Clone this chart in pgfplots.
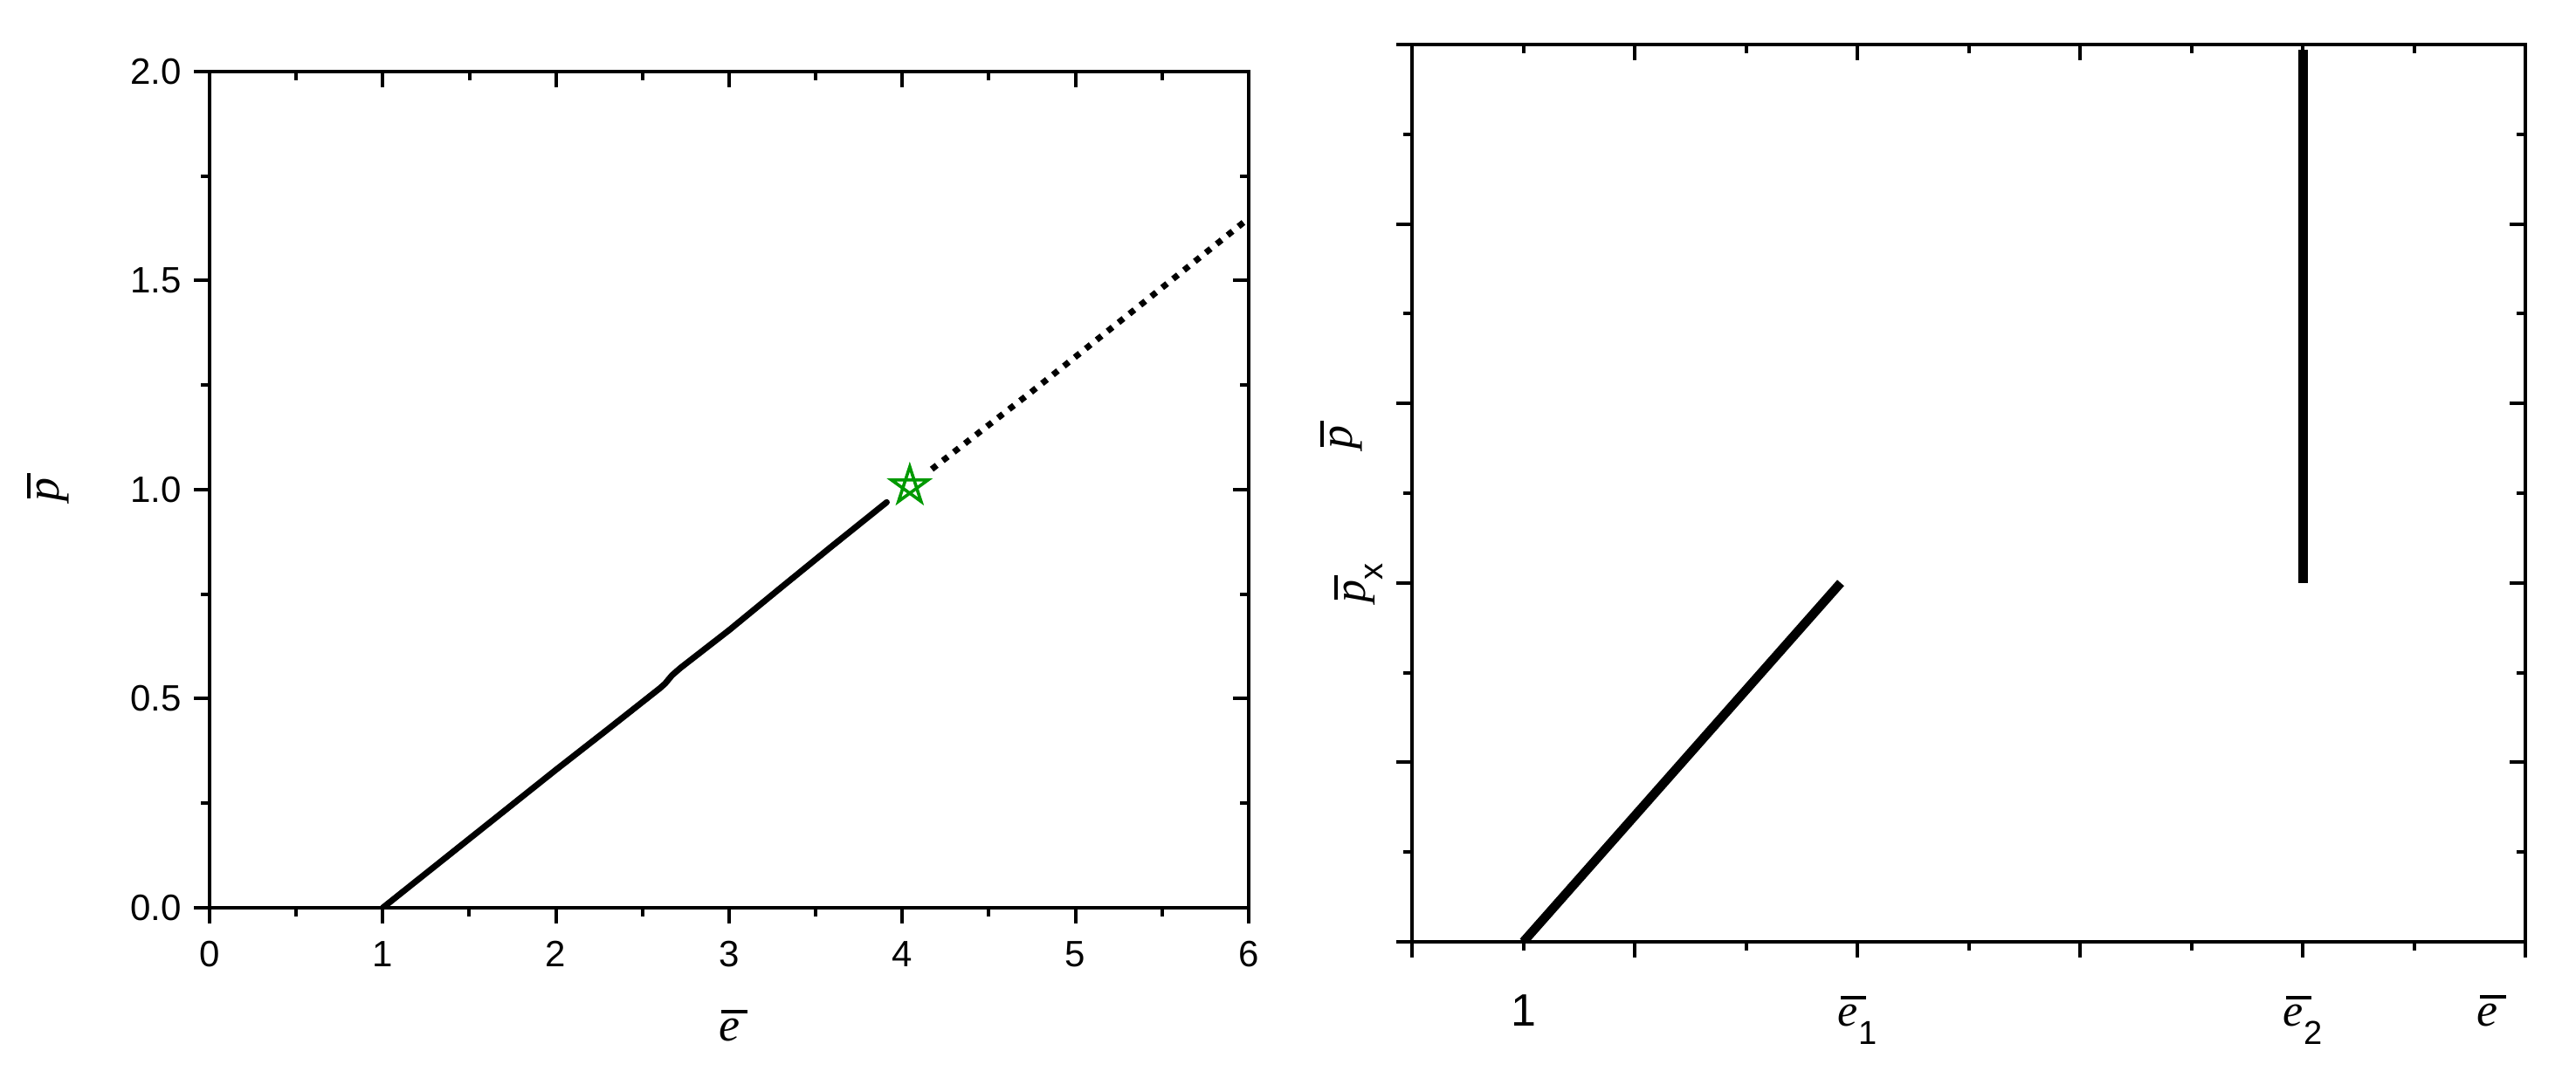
\documentclass[border=0pt]{standalone}
\usepackage{fontspec}
\setmainfont{Liberation Sans}
\newfontfamily\tnr{Liberation Serif}
\usepackage{pgfplots}
\pgfplotsset{compat=1.18}
\definecolor{stargreen}{RGB}{0,153,0}

% barred italic letter, sans subscript
\newcommand{\ob}[1]{\makebox[0pt][l]{\hspace{0.06em}\rule[0.6em]{0.55em}{0.07em}}{\tnr\itshape #1}}
\newcommand{\lsub}[1]{\raisebox{-0.4em}{\fontsize{9.5}{9.5}\selectfont #1}}

\pgfdeclareplotmark{pentagram}{%
  \pgfpathmoveto{\pgfqpointpolar{90}{\pgfplotmarksize}}%
  \pgfpathlineto{\pgfqpointpolar{234}{\pgfplotmarksize}}%
  \pgfpathlineto{\pgfqpointpolar{18}{\pgfplotmarksize}}%
  \pgfpathlineto{\pgfqpointpolar{162}{\pgfplotmarksize}}%
  \pgfpathlineto{\pgfqpointpolar{306}{\pgfplotmarksize}}%
  \pgfpathclose\pgfusepathqstroke}

\pgfplotsset{
  frame/.style={
    scale only axis,
    axis line style={line width=1pt},
    every tick/.style={black, line width=1pt},
    major tick length=4.5pt,
    minor tick length=2.4pt,
    /pgf/number format/assume math mode=true,
  },
  leftbox/.style={frame, at={(60pt,46.75pt)}, anchor=south west,
    width=297.5pt, height=239.5pt,
    xmin=0, xmax=6, ymin=0, ymax=2,
    xtick={0,...,6}, minor x tick num=1,
    ytick={0,0.5,...,2}, minor y tick num=1},
  rightbox/.style={frame, at={(404.25pt,37pt)}, anchor=south west,
    width=318.75pt, height=257pt,
    xmin=0, xmax=10, ymin=0, ymax=5,
    xtick={0,2,...,10}, minor x tick num=1,
    ytick={0,...,5}, minor y tick num=1},
}

\begin{document}
\begin{tikzpicture}
\path[use as bounding box] (0,0) rectangle (737.5pt,306.75pt);

% left panel
\begin{axis}[leftbox,
  xtick pos=left, ytick pos=left, tick align=outside,
  tick label style={font=\fontsize{10.5}{12}\selectfont},
  yticklabel style={/pgf/number format/.cd, fixed, fixed zerofill, precision=1},
  xticklabel style={yshift=-1.5pt},
  xlabel={\ob{e}}, ylabel={\ob{p}},
  every axis x label/.style={at={(axis description cs:0.5,0)}, anchor=base,
    yshift=-38.25pt, font=\fontsize{13.5}{15}\selectfont},
  every axis y label/.style={at={(axis description cs:-0.145,0.5)}, rotate=90,
    anchor=base, font=\fontsize{13.5}{15}\selectfont},
]
\addplot[black, line width=1.75pt, line cap=round] coordinates {
  (1,0) (1.5,0.165) (2,0.33) (2.3,0.427) (2.6,0.525) (2.63,0.536)
  (2.67,0.556) (2.72,0.574) (3,0.664) (3.3,0.766) (3.6,0.867) (3.91,0.970)
};
\addplot[black, line width=1.75pt, dash pattern=on 1.8pt off 2.2pt] coordinates {
  (4.17,1.049) (4.74,1.232) (5.37,1.440) (6,1.649)
};
\addplot[only marks, mark=pentagram, mark size=5.5pt, color=stargreen,
  mark options={line width=0.9pt}] coordinates {(4.043,1.009)};
\end{axis}
\begin{axis}[leftbox, xtick pos=right, ytick pos=right, tick align=inside,
  xticklabels={}, yticklabels={}]
\end{axis}

% right panel
\begin{axis}[rightbox,
  xtick pos=left, ytick pos=left, tick align=outside,
  xticklabels={}, yticklabels={},
  tick label style={font=\fontsize{13}{15}\selectfont},
  extra x ticks={1,4,8},
  extra x tick labels={1, \ob{e}\lsub{1}, \ob{e}\lsub{2}},
  extra x tick style={major tick length=0pt, xticklabel style={anchor=base, yshift=-24.25pt}},
  extra y ticks={2},
  extra y tick labels={\ob{p}\lsub{x}},
  extra y tick style={major tick length=0pt, yticklabel style={xshift=-13.5pt, rotate=90, anchor=base}},
  xlabel={\ob{e}}, ylabel={\ob{p}},
  every axis x label/.style={at={(axis description cs:0.966,0)}, anchor=base,
    yshift=-24.25pt, font=\fontsize{13.5}{15}\selectfont},
  every axis y label/.style={at={(axis description cs:-0.054,0.562)}, rotate=90,
    anchor=base, font=\fontsize{13.5}{15}\selectfont},
]
\addplot[black, line width=2.6pt] coordinates {(1,0) (3.85,2)};
\addplot[black, line width=2.75pt] coordinates {(8,2) (8,4.97)};
\end{axis}
\begin{axis}[rightbox, xtick pos=right, ytick pos=right, tick align=inside,
  xticklabels={}, yticklabels={}]
\end{axis}
\end{tikzpicture}
\end{document}
